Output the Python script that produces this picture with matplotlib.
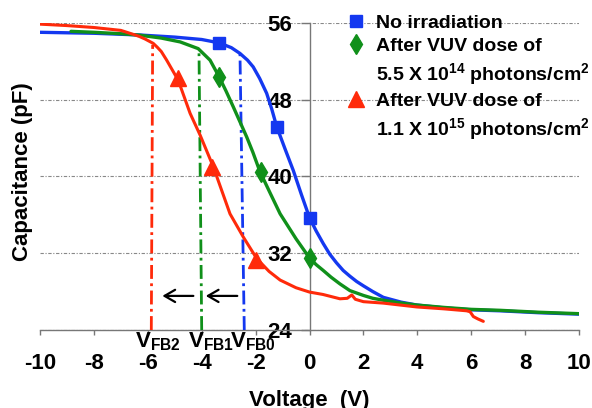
import matplotlib
matplotlib.use('Agg')
import matplotlib.pyplot as plt
from matplotlib.lines import Line2D

plt.rcParams['font.family'] = 'Liberation Sans'
plt.rcParams['font.weight'] = 'bold'
plt.rcParams['axes.labelweight'] = 'bold'
plt.rcParams['mathtext.default'] = 'regular'
plt.rcParams['axes.unicode_minus'] = False

BLUE = '#1438f0'
GREEN = '#10901a'
RED = '#ff2a0a'

#----------------- DATA -----------------
v_blue = [-10, -8, -6.3, -5, -4, -3.35, -2.9, -2.58, -2.3, -2.09, -1.85, -1.59, -1.4,
          -1.22, -0.9, -0.6, -0.3, 0, 0.25, 0.51, 0.75, 1.0, 1.25, 1.5, 1.75, 2.0, 2.35,
          2.74, 3.4, 3.98, 5, 6, 7.07, 8.5, 10]
c_blue = [55.0, 54.9, 54.72, 54.5, 54.25, 53.9, 53.4, 52.8, 52.1, 51.4, 50.2, 48.65, 47.0,
          45.2, 42.8, 40.6, 38.1, 35.7, 34.3, 33.0, 31.9, 31.0, 30.2, 29.6, 29.05, 28.6, 28.0,
          27.4, 26.9, 26.6, 26.3, 26.1, 26.0, 25.8, 25.65]

v_green = [-8.85, -8, -7, -6.3, -5.5, -4.8, -4.13, -3.69, -3.36, -3.1, -2.83, -2.33, -2.1,
           -1.84, -1.45, -1.09, -0.5, 0, 0.25, 0.51, 0.8, 1.13, 1.5, 2.0, 2.35, 2.74, 3.3,
           3.98, 5, 6, 7.07, 8.5, 10]
c_green = [55.1, 55.0, 54.85, 54.7, 54.4, 54.0, 53.3, 52.1, 50.4, 48.9, 47.25, 44.1, 42.5,
           40.5, 38.2, 36.1, 33.5, 31.5, 30.8, 30.2, 29.5, 28.8, 28.1, 27.6, 27.3, 27.1, 26.85,
           26.6, 26.35, 26.15, 26.05, 25.85, 25.7]

v_red = [-10, -9, -8, -7, -6.5, -6.3, -6.1, -5.8, -5.65, -5.5, -5.3, -4.87, -4.43, -4.06,
         -3.57, -2.95, -2.46, -1.96, -1.5, -1.09, -0.5, 0, 0.5, 1.13, 1.4, 1.57, 1.7, 2.0,
         2.74, 3.98, 5, 5.83, 5.96, 6.08, 6.25, 6.45]
c_red = [55.85, 55.7, 55.5, 55.2, 54.75, 54.55, 54.3, 53.85, 53.45, 53.0, 52.1, 50.0, 46.56,
         44.3, 41.0, 36.1, 33.7, 31.45, 30.1, 29.2, 28.4, 27.95, 27.7, 27.25, 27.3, 27.65,
         27.2, 26.95, 26.8, 26.4, 26.2, 26.0, 25.9, 25.4, 25.15, 24.9]

# marker points
mv_blue = [-3.35, -1.22, 0]
mc_blue = [53.9, 45.1, 35.7]
mv_green = [-3.36, -1.8, 0]
mc_green = [50.3, 40.5, 31.5]
mv_red = [-4.87, -3.6, -1.98]
mc_red = [50.2, 41.0, 31.3]

# flat-band voltage markers
vfb_names = ['$V_{FB2}$', '$V_{FB1}$', '$V_{FB0}$']
vfb_bottom = [-5.87, -4.0, -2.42]
vfb_top = [-5.82, -4.1, -2.58]
vfb_c_top = [53.7, 53.0, 52.8]
vfb_label_x = [-6.47, -4.5, -2.95]
vfb_colors = [RED, GREEN, BLUE]

arrow_tail = [-2.68, -4.31]
arrow_head = [-3.85, -5.46]
arrow_c = 27.55

x_ticks = [-10, -8, -6, -4, -2, 0, 2, 4, 6, 8, 10]
y_ticks = [24, 32, 40, 48, 56]

legend_labels = ['No irradiation',
                 'After VUV dose of',
                 r'5.5 X 10$^{14}$ photons/cm$^2$',
                 'After VUV dose of',
                 r'1.1 X 10$^{15}$ photons/cm$^2$']

#----------------- FIGURE -----------------
fig = plt.figure(figsize=(5.92, 4.08), dpi=100)
ax = fig.add_axes([40 / 592, 78 / 408, 539 / 592, 307.3 / 408])

ax.set_xlim(-10, 10)
ax.set_ylim(24, 56)

ax.plot(v_blue, c_blue, color=BLUE, lw=2.4, zorder=4, solid_capstyle='round')
ax.plot(v_green, c_green, color=GREEN, lw=2.4, zorder=4, solid_capstyle='round')
ax.plot(v_red, c_red, color=RED, lw=2.2, zorder=5, solid_capstyle='round')

ax.plot(mv_blue, mc_blue, ls='none', marker='s', ms=9, color=BLUE, zorder=6)
ax.plot(mv_green, mc_green, ls='none', marker='d', ms=10, color=GREEN, zorder=6)
ax.plot(mv_red, mc_red, ls='none', marker='^', ms=12, color=RED, zorder=6)

for xb, xt, ct, col in zip(vfb_bottom, vfb_top, vfb_c_top, vfb_colors):
    ax.plot([xb, xt], [24, ct], color=col, lw=2, ls=(0, (5, 1.6, 1, 1.6)), zorder=3)

for name, xl in zip(vfb_names, vfb_label_x):
    ax.text(xl, 24, name, fontsize=16, ha='left', va='top', zorder=7)

for xt, xh in zip(arrow_tail, arrow_head):
    ax.annotate('', xy=(xh, arrow_c), xytext=(xt, arrow_c),
                arrowprops=dict(arrowstyle='->,head_length=0.38,head_width=0.22',
                                mutation_scale=20, lw=1.6, color='black',
                                shrinkA=0, shrinkB=0))

#----------------- AXES -----------------
ax.spines['top'].set_visible(False)
ax.spines['right'].set_visible(False)
ax.spines['left'].set_position(('data', 0))
for s in ['left', 'bottom']:
    ax.spines[s].set_color('#777777')
    ax.spines[s].set_linewidth(1)

ax.set_xticks(x_ticks)
ax.set_yticks(y_ticks)
ax.tick_params(axis='x', direction='out', length=3.6, width=1, color='#777777',
               labelsize=16, pad=13)
ax.tick_params(axis='y', direction='out', length=6.5, width=1, color='#777777',
               labelsize=16, pad=6)

ax.yaxis.grid(True, color='#888888', lw=0.8, ls=(0, (3, 1.5, 1, 1.5)))
ax.set_axisbelow(True)

ax.set_xlabel('Voltage  (V)', fontsize=16, fontweight='bold')
ax.xaxis.set_label_coords(0.5, -0.2473)
ax.xaxis.label.set_va('baseline')
ax.set_ylabel('Capacitance (pF)', fontsize=16, fontweight='bold')
ax.yaxis.set_label_coords(-0.013, 0.517)

#----------------- LEGEND -----------------
handles = [Line2D([], [], ls='none', marker='s', ms=9, color=BLUE),
           Line2D([], [], ls='none', marker='d', ms=10, color=GREEN),
           Line2D([], [], ls='none', marker=''),
           Line2D([], [], ls='none', marker='^', ms=12, color=RED),
           Line2D([], [], ls='none', marker='')]
fig.legend(handles, legend_labels, loc='upper left',
           bbox_to_anchor=(346 / 592, 1 - 14 / 408), frameon=False,
           prop=dict(size=14, weight='bold'), handlelength=1.0, handletextpad=0.55,
           labelspacing=0.3, borderpad=0, borderaxespad=0)

fig.savefig('out.png', dpi=100)
